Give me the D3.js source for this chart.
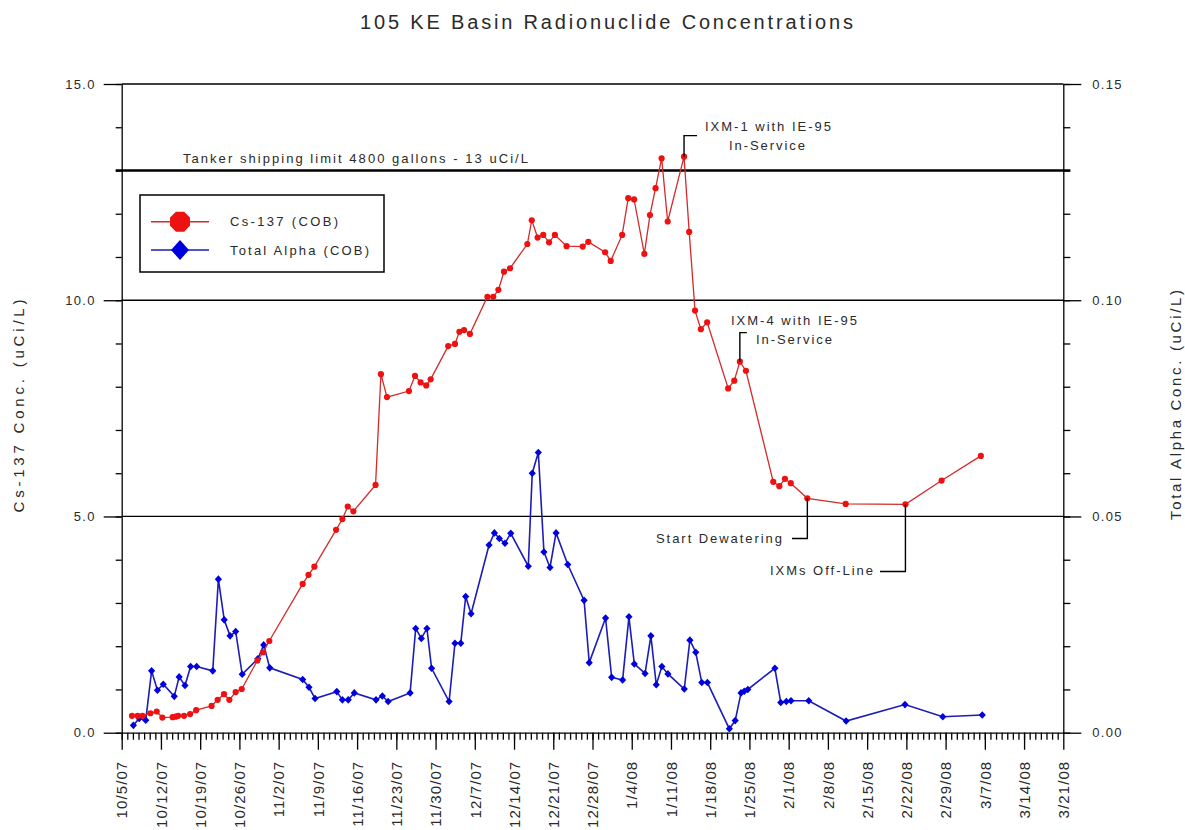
<!DOCTYPE html>
<html>
<head>
<meta charset="utf-8">
<script src="https://cdn.jsdelivr.net/npm/d3@7"></script>
<style>
  body { margin: 0; background: #fff; }
  svg text { font-family: Arial, "Liberation Sans", Helvetica, sans-serif; fill: #2a2a2a; }
</style>
</head>
<body>
<svg id="chart" width="1185" height="830"></svg>
<script>
// Cs-137 (COB), uCi/L, sample date + hour
var csDates = [
  "10/6/07 20", "10/7/07 20", "10/8/07 17", "10/10/07 3", "10/11/07 6", "10/12/07 6", "10/14/07 2", "10/14/07 15", "10/15/07 2", "10/16/07 3",
  "10/17/07 5", "10/18/07 7", "10/21/07 1", "10/22/07 3", "10/23/07 6", "10/24/07 5", "10/25/07 8", "10/26/07 10", "10/29/07 5", "10/30/07 6",
  "10/31/07 8", "11/6/07 7", "11/7/07 8", "11/8/07 9", "11/12/07 6", "11/13/07 9", "11/14/07 8", "11/15/07 8", "11/19/07 7", "11/20/07 6",
  "11/21/07 8", "11/25/07 6", "11/26/07 8", "11/27/07 8", "11/28/07 8", "11/29/07 3", "12/2/07 6", "12/3/07 11", "12/4/07 6", "12/5/07 2",
  "12/6/07 3", "12/9/07 6", "12/10/07 7", "12/11/07 5", "12/12/07 5", "12/13/07 7", "12/16/07 9", "12/17/07 4", "12/18/07 5", "12/19/07 5",
  "12/20/07 6", "12/21/07 7", "12/23/07 9", "12/26/07 6", "12/27/07 6", "12/30/07 6", "12/31/07 6", "1/2/08 7", "1/3/08 9", "1/4/08 10",
  "1/6/08 6", "1/7/08 6", "1/8/08 6", "1/9/08 8", "1/10/08 10", "1/13/08 8", "1/14/08 6", "1/15/08 7", "1/16/08 8", "1/17/08 11",
  "1/21/08 5", "1/22/08 7", "1/23/08 7", "1/24/08 9", "1/29/08 6", "1/30/08 8", "1/31/08 8", "2/1/08 9", "2/4/08 8", "2/11/08 4",
  "2/21/08 20", "2/28/08 7", "3/6/08 7"
];
var csValues = [
  0.39, 0.39, 0.39, 0.45, 0.49, 0.35, 0.36, 0.37, 0.39, 0.39,
  0.43, 0.52, 0.62, 0.76, 0.89, 0.76, 0.94, 1.01, 1.67, 1.86,
  2.12, 3.44, 3.65, 3.84, 4.69, 4.94, 5.23, 5.12, 5.73, 8.29,
  7.76, 7.90, 8.25, 8.10, 8.03, 8.17, 8.94, 8.99, 9.27, 9.31,
  9.22, 10.08, 10.08, 10.24, 10.66, 10.74, 11.30, 11.85, 11.45, 11.51,
  11.34, 11.51, 11.25, 11.24, 11.35, 11.11, 10.91, 11.51, 12.36, 12.33,
  11.07, 11.97, 12.59, 13.28, 11.82, 13.32, 11.58, 9.76, 9.33, 9.49,
  7.96, 8.14, 8.58, 8.37, 5.80, 5.70, 5.87, 5.77, 5.42, 5.29,
  5.28, 5.83, 6.40
];

// Total Alpha (COB), uCi/L
var alphaDates = [
  "10/7/07 2", "10/8/07 3", "10/9/07 7", "10/10/07 8", "10/11/07 9", "10/12/07 10", "10/14/07 9", "10/15/07 6", "10/16/07 7", "10/17/07 7",
  "10/18/07 9", "10/21/07 6", "10/22/07 6", "10/23/07 7", "10/24/07 8", "10/25/07 8", "10/26/07 12", "10/29/07 7", "10/30/07 8", "10/31/07 10",
  "11/6/07 7", "11/7/07 10", "11/8/07 12", "11/12/07 9", "11/13/07 9", "11/14/07 10", "11/15/07 12", "11/19/07 9", "11/20/07 12", "11/21/07 13",
  "11/25/07 11", "11/26/07 11", "11/27/07 11", "11/28/07 11", "11/29/07 7", "12/2/07 10", "12/3/07 11", "12/4/07 12", "12/5/07 9", "12/6/07 8",
  "12/9/07 13", "12/10/07 12", "12/11/07 9", "12/12/07 9", "12/13/07 10", "12/16/07 13", "12/17/07 6", "12/18/07 8", "12/19/07 8", "12/20/07 10",
  "12/21/07 12", "12/23/07 14", "12/26/07 12", "12/27/07 10", "12/30/07 8", "12/31/07 10", "1/2/08 9", "1/3/08 12", "1/4/08 11", "1/6/08 9",
  "1/7/08 10", "1/8/08 9", "1/9/08 9", "1/10/08 11", "1/13/08 9", "1/14/08 9", "1/15/08 10", "1/16/08 12", "1/17/08 12", "1/21/08 10",
  "1/22/08 11", "1/23/08 12", "1/24/08 2", "1/24/08 17", "1/29/08 13", "1/30/08 14", "1/31/08 14", "2/1/08 10", "2/4/08 14", "2/11/08 6",
  "2/21/08 18", "2/28/08 12", "3/6/08 13"
];
var alphaValues = [
  0.0017, 0.0033, 0.0029, 0.0143, 0.0098, 0.0112, 0.0084, 0.0129, 0.0109, 0.0153,
  0.0153, 0.0143, 0.0355, 0.0261, 0.0224, 0.0234, 0.0135, 0.0171, 0.0203, 0.0150,
  0.0123, 0.0105, 0.0079, 0.0095, 0.0076, 0.0076, 0.0092, 0.0076, 0.0085, 0.0072,
  0.0092, 0.0241, 0.0218, 0.0241, 0.0149, 0.0072, 0.0207, 0.0207, 0.0315, 0.0275,
  0.0434, 0.0462, 0.0449, 0.0438, 0.0461, 0.0385, 0.0600, 0.0648, 0.0418, 0.0382,
  0.0462, 0.0389, 0.0306, 0.0162, 0.0265, 0.0128, 0.0122, 0.0268, 0.0159, 0.0137,
  0.0224, 0.0111, 0.0153, 0.0136, 0.0101, 0.0214, 0.0186, 0.0116, 0.0116, 0.0009,
  0.0028, 0.0092, 0.0096, 0.0100, 0.0149, 0.0070, 0.0072, 0.0074, 0.0074, 0.0027,
  0.0065, 0.0037, 0.0041
];

var dateTicks = ["10/5/07", "10/12/07", "10/19/07", "10/26/07", "11/2/07", "11/9/07", "11/16/07", "11/23/07", "11/30/07",
  "12/7/07", "12/14/07", "12/21/07", "12/28/07", "1/4/08", "1/11/08", "1/18/08", "1/25/08", "2/1/08", "2/8/08",
  "2/15/08", "2/22/08", "2/29/08", "3/7/08", "3/14/08", "3/21/08"];
var csTicks = [0, 5, 10, 15];
var alphaTicks = [0, 0.05, 0.10, 0.15];
var shippingLimit = 13;

// notes point at Cs-137 samples (index into csDates)
var noteText = [["IXM-1 with IE-95", "In-Service"], ["IXM-4 with IE-95", "In-Service"], ["Start Dewatering"], ["IXMs Off-Line"]];
var notePoint = [65, 72, 78, 80];

var parseTime = d3.timeParse("%m/%d/%y %H");
var parseDay = d3.timeParse("%m/%d/%y");

function draw() {
  const svg = d3.select("#chart");
  const L = 121.7, R = 1063.3, T = 84, B = 732.7;

  const x = d3.scaleTime()
    .domain([parseDay(dateTicks[0]), parseDay(dateTicks[dateTicks.length - 1])])
    .range([L, R]);
  const yL = d3.scaleLinear().domain([0, 15]).range([B, T]);
  const yR = d3.scaleLinear().domain([0, 0.15]).range([B, T]);

  let cs = csDates.map((d, i) => ({ date: parseTime(d), value: csValues[i] }));
  let alpha = alphaDates.map((d, i) => ({ date: parseTime(d), value: alphaValues[i] }));

  // gridlines at major ticks
  svg.append("g")
    .selectAll("line")
    .data(csTicks.slice(1))
    .enter()
    .append("line")
    .attr("x1", L).attr("x2", R)
    .attr("y1", d => yL(d)).attr("y2", d => yL(d))
    .attr("stroke", "#000")
    .attr("stroke-width", 1.3);

  // tanker limit
  svg.append("line")
    .attr("x1", L - 6).attr("x2", R + 7)
    .attr("y1", yL(shippingLimit)).attr("y2", yL(shippingLimit))
    .attr("stroke", "#000")
    .attr("stroke-width", 2.6);

  // axes
  const minor = svg.append("g").attr("class", "minor");
  minor.append("g")
    .attr("transform", `translate(${L},0)`)
    .call(d3.axisLeft(yL).tickValues(d3.range(0, 16)).tickSize(6).tickFormat(""));
  minor.append("g")
    .attr("transform", `translate(${R},0)`)
    .call(d3.axisRight(yR).tickValues(d3.range(0, 16).map(d => d / 100)).tickSize(7).tickFormat(""));
  minor.append("g")
    .attr("transform", `translate(0,${B})`)
    .call(d3.axisBottom(x).tickValues(d3.timeDay.range(x.domain()[0], x.domain()[1])).tickSize(7).tickFormat(""));
  minor.selectAll(".domain").remove();
  minor.selectAll("line").attr("stroke", "#000").attr("stroke-width", 1.3);

  const ax = svg.append("g")
    .attr("transform", `translate(${L},0)`)
    .call(d3.axisLeft(yL).tickValues(csTicks).tickSize(18).tickSizeOuter(0).tickPadding(8).tickFormat(d3.format(".1f")));
  const ay = svg.append("g")
    .attr("transform", `translate(${R},0)`)
    .call(d3.axisRight(yR).tickValues(alphaTicks).tickSize(18).tickSizeOuter(0).tickPadding(11).tickFormat(d3.format(".2f")));
  const axb = svg.append("g")
    .attr("transform", `translate(0,${B})`)
    .call(d3.axisBottom(x).tickValues(dateTicks.map(parseDay)).tickSize(17).tickSizeOuter(0).tickFormat((d, i) => dateTicks[i]));

  [ax, ay, axb].forEach(g => {
    g.selectAll("line, .domain").attr("stroke", "#000").attr("stroke-width", 1.3);
    g.selectAll("text").attr("fill", "#2a2a2a").attr("font-size", 13).attr("letter-spacing", 1.3)
      .attr("font-family", "Arial, 'Liberation Sans', sans-serif");
  });
  // date labels read upward, hanging below the axis
  axb.selectAll("text")
    .attr("font-size", 15)
    .attr("letter-spacing", 1.1)
    .attr("transform", "rotate(-90)")
    .attr("text-anchor", "end")
    .attr("x", -28)
    .attr("y", 0)
    .attr("dy", "0.35em");

  // series
  const csLine = d3.line().x(d => x(d.date)).y(d => yL(d.value));
  const alphaLine = d3.line().x(d => x(d.date)).y(d => yR(d.value));

  svg.append("path")
    .datum(alpha)
    .attr("fill", "none")
    .attr("stroke", "#1c1cb8")
    .attr("stroke-width", 1.6)
    .attr("d", alphaLine);
  svg.append("g")
    .selectAll("path")
    .data(alpha)
    .enter()
    .append("path")
    .attr("d", d => diamond(x(d.date), yR(d.value), 3.6, 3.8))
    .attr("fill", "#0000dd");

  svg.append("path")
    .datum(cs)
    .attr("fill", "none")
    .attr("stroke", "#d42a2a")
    .attr("stroke-width", 1.3)
    .attr("d", csLine);
  svg.append("g")
    .selectAll("circle")
    .data(cs)
    .enter()
    .append("circle")
    .attr("cx", d => x(d.date))
    .attr("cy", d => yL(d.value))
    .attr("r", 3.1)
    .attr("fill", "#ee1111");

  // titles
  svg.append("text")
    .attr("x", 606.5).attr("y", 22).attr("dy", "0.35em")
    .attr("text-anchor", "middle")
    .attr("font-size", 20)
    .attr("textLength", 493).attr("lengthAdjust", "spacing")
    .text("105 KE Basin Radionuclide Concentrations");
  svg.append("text")
    .attr("transform", "translate(19,406) rotate(-90)")
    .attr("dy", "0.35em")
    .attr("text-anchor", "middle")
    .attr("font-size", 15)
    .attr("textLength", 213).attr("lengthAdjust", "spacing")
    .text("Cs-137 Conc. (uCi/L)");
  svg.append("text")
    .attr("transform", "translate(1176,405) rotate(-90)")
    .attr("dy", "0.35em")
    .attr("text-anchor", "middle")
    .attr("font-size", 15)
    .attr("textLength", 230).attr("lengthAdjust", "spacing")
    .text("Total Alpha Conc. (uCi/L)");

  svg.append("text")
    .attr("x", 183).attr("y", yL(shippingLimit) - 12).attr("dy", "0.35em")
    .attr("font-size", 13)
    .attr("textLength", 345).attr("lengthAdjust", "spacing")
    .text("Tanker shipping limit  4800 gallons - 13 uCi/L");

  // legend
  const lg = svg.append("g");
  lg.append("rect")
    .attr("x", 140).attr("y", 195).attr("width", 244).attr("height", 77)
    .attr("fill", "#fff").attr("stroke", "#000").attr("stroke-width", 1.5);
  lg.append("line").attr("x1", 151).attr("x2", 209).attr("y1", 221.7).attr("y2", 221.7)
    .attr("stroke", "#d42a2a").attr("stroke-width", 1.5);
  lg.append("path").attr("d", octagon(180, 221.7, 10.8)).attr("fill", "#ee1111");
  lg.append("line").attr("x1", 151).attr("x2", 209).attr("y1", 250).attr("y2", 250)
    .attr("stroke", "#1c1cb8").attr("stroke-width", 1.5);
  lg.append("path").attr("d", diamond(180, 250, 9, 10)).attr("fill", "#0000dd");
  lg.append("text").attr("x", 230).attr("y", 221.7).attr("dy", "0.35em").attr("font-size", 13)
    .attr("textLength", 108).attr("lengthAdjust", "spacing").text("Cs-137 (COB)");
  lg.append("text").attr("x", 230).attr("y", 250).attr("dy", "0.35em").attr("font-size", 13)
    .attr("textLength", 139).attr("lengthAdjust", "spacing").text("Total Alpha (COB)");

  // annotations
  const an = svg.append("g");
  let p = notePoint.map(i => [x(cs[i].date), yL(cs[i].value)]);

  an.append("path").attr("d", `M${p[0][0]},${p[0][1]}V${p[0][1] - 21}h13`);
  an.append("text").attr("x", 705).attr("y", 126).attr("dy", "0.35em").attr("font-size", 13)
    .attr("textLength", 126).attr("lengthAdjust", "spacing").text(noteText[0][0]);
  an.append("text").attr("x", 729).attr("y", 145.5).attr("dy", "0.35em").attr("font-size", 13)
    .attr("textLength", 76).attr("lengthAdjust", "spacing").text(noteText[0][1]);

  an.append("path").attr("d", `M${p[1][0]},${p[1][1]}V${p[1][1] - 29}h7`);
  an.append("text").attr("x", 731).attr("y", 320).attr("dy", "0.35em").attr("font-size", 13)
    .attr("textLength", 126).attr("lengthAdjust", "spacing").text(noteText[1][0]);
  an.append("text").attr("x", 756).attr("y", 339).attr("dy", "0.35em").attr("font-size", 13)
    .attr("textLength", 76).attr("lengthAdjust", "spacing").text(noteText[1][1]);

  an.append("path").attr("d", `M${p[2][0]},${p[2][1]}V538.5H792`);
  an.append("text").attr("x", 656).attr("y", 538.5).attr("dy", "0.35em").attr("font-size", 13)
    .attr("textLength", 126).attr("lengthAdjust", "spacing").text(noteText[2][0]);

  an.append("path").attr("d", `M${p[3][0]},${p[3][1]}V571.5H880`);
  an.append("text").attr("x", 770).attr("y", 570.5).attr("dy", "0.35em").attr("font-size", 13)
    .attr("textLength", 103).attr("lengthAdjust", "spacing").text(noteText[3][0]);

  an.selectAll("path").attr("fill", "none").attr("stroke", "#000").attr("stroke-width", 1.4);
}

function diamond(cx, cy, w, h) {
  return `M${cx},${cy - h}L${cx + w},${cy}L${cx},${cy + h}L${cx - w},${cy}Z`;
}

function octagon(cx, cy, r) {
  let pts = d3.range(8).map(k => {
    let a = Math.PI / 8 + k * Math.PI / 4;
    return [cx + r * Math.cos(a), cy + r * Math.sin(a)];
  });
  return "M" + pts.join("L") + "Z";
}

draw();
</script>
</body>
</html>
